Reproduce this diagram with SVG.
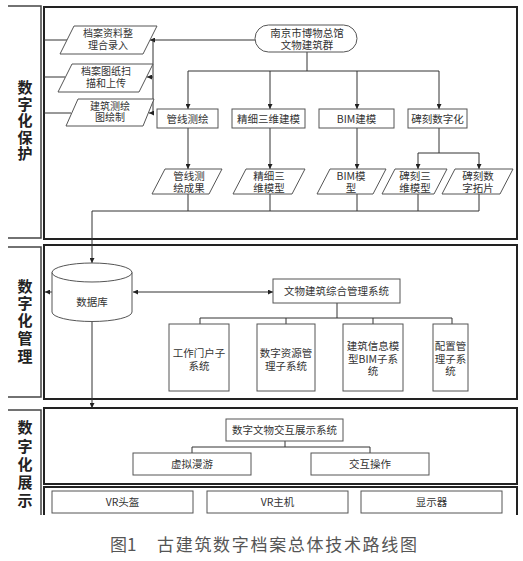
<svg xmlns="http://www.w3.org/2000/svg" width="523" height="561" viewBox="0 0 523 561">
<defs>
<style>
text{font-family:"Noto Sans CJK SC","Liberation Sans",sans-serif;fill:#333;font-size:10.5px;text-anchor:middle}
.lab{font-size:15px;font-weight:bold;fill:#222}
.sec{fill:#fff;stroke:#222;stroke-width:2}
.frm{fill:none;stroke:#444;stroke-width:1.5}
.nd{fill:#fff;stroke:#555;stroke-width:1}
.cn{fill:none;stroke:#333;stroke-width:1}
.cap{font-size:17px;fill:#555;text-anchor:start}
.pt{font-size:10px}
</style>
<marker id="ah" viewBox="0 0 10 10" refX="10" refY="5" markerWidth="5" markerHeight="5" orient="auto-start-reverse" markerUnits="userSpaceOnUse">
<path d="M0,0L10,5L0,10z" fill="#222"/>
</marker>
</defs>
<rect width="523" height="561" fill="#fff"/>

<g id="labels">
<path class="frm" d="M8,6H41V238H8"/>
<path class="frm" d="M8,247H41V397H8"/>
<path class="frm" d="M8,410H41V515"/>
<text class="lab" x="25" y="93">数</text>
<text class="lab" x="25" y="110">字</text>
<text class="lab" x="25" y="126">化</text>
<text class="lab" x="25" y="143">保</text>
<text class="lab" x="25" y="159">护</text>
<text class="lab" x="25" y="292">数</text>
<text class="lab" x="25" y="309">字</text>
<text class="lab" x="25" y="326">化</text>
<text class="lab" x="25" y="344">管</text>
<text class="lab" x="25" y="362">理</text>
<text class="lab" x="25" y="433">数</text>
<text class="lab" x="25" y="452">字</text>
<text class="lab" x="25" y="470">化</text>
<text class="lab" x="25" y="488">展</text>
<text class="lab" x="25" y="506">示</text>
</g>

<g id="sections">
<rect class="sec" x="44" y="7" width="473" height="232"/>
<rect class="sec" x="44" y="245" width="473" height="154"/>
<rect class="sec" x="44" y="408" width="473" height="76"/>
<path class="sec" d="M44,515V487H517V515" fill="none"/>
</g>

<g id="connectors">
<path class="cn" d="M44,40H67M44,77H65M44,113H71"/>
<path class="cn" d="M255,40H150" marker-end="url(#ah)"/>
<path class="cn" d="M153,40V113"/>
<path class="cn" d="M153,77H147" marker-end="url(#ah)"/>
<path class="cn" d="M153,113H149" marker-end="url(#ah)"/>
<path class="cn" d="M307,52V71M188,71H439"/>
<path class="cn" d="M188,71V109" marker-end="url(#ah)"/>
<path class="cn" d="M270,71V109" marker-end="url(#ah)"/>
<path class="cn" d="M357,71V109" marker-end="url(#ah)"/>
<path class="cn" d="M439,71V109" marker-end="url(#ah)"/>
<path class="cn" d="M188,128V169" marker-end="url(#ah)"/>
<path class="cn" d="M270,128V169" marker-end="url(#ah)"/>
<path class="cn" d="M357,128V169" marker-end="url(#ah)"/>
<path class="cn" d="M439,128V153M418,153H479"/>
<path class="cn" d="M418,153V169" marker-end="url(#ah)"/>
<path class="cn" d="M479,153V169" marker-end="url(#ah)"/>
<path class="cn" d="M188,194V211M270,194V211M357,194V211M418,194V211M479,194V211M92,211H479"/>
<path class="cn" d="M92,211V263" marker-end="url(#ah)"/>
<path class="cn" d="M52,292H45" marker-end="url(#ah)"/>
<path class="cn" d="M133,292H273" marker-start="url(#ah)" marker-end="url(#ah)"/>
<path class="cn" d="M337,303V318M200,318H452M200,318V324M286,318V324M373,318V324M452,318V324"/>
<path class="cn" d="M92,322V408" marker-end="url(#ah)"/>
<path class="cn" d="M285,441V447M192,447H370M192,447V453M370,447V453"/>
</g>

<g id="n-input1">
<polygon class="nd" points="74,26 157,26 143,54 60,54"/>
<text class="pt" x="108" y="37">档案资料整</text>
<text class="pt" x="108" y="49">理合录入</text>
</g>
<g id="n-input2">
<polygon class="nd" points="72,64 153,64 139,92 58,92"/>
<text class="pt" x="106" y="75">档案图纸扫</text>
<text class="pt" x="106" y="87">描和上传</text>
</g>
<g id="n-input3">
<polygon class="nd" points="78,99 154,99 143,126 66,126"/>
<text class="pt" x="110" y="110">建筑测绘</text>
<text class="pt" x="110" y="121">图绘制</text>
</g>
<g id="n-source">
<rect class="nd" x="255" y="25" width="102" height="27" rx="13.5"/>
<text x="307" y="37">南京市博物总馆</text>
<text x="307" y="49">文物建筑群</text>
</g>
<g id="n-gx"><rect class="nd" x="157" y="109" width="61" height="19"/><text x="187.5" y="122.5">管线测绘</text></g>
<g id="n-jx"><rect class="nd" x="232" y="109" width="73" height="19"/><text x="268.5" y="122.5">精细三维建模</text></g>
<g id="n-bim"><rect class="nd" x="319" y="109" width="75" height="19"/><text x="356.5" y="122.5">BIM建模</text></g>
<g id="n-bk"><rect class="nd" x="408" y="109" width="59" height="19"/><text x="437.5" y="122.5">碑刻数字化</text></g>

<g id="n-gxr">
<polygon class="nd" points="165,169 222,169 209,194 152,194"/>
<text x="189" y="180">管线测</text><text x="189" y="192">绘成果</text>
</g>
<g id="n-jxr">
<polygon class="nd" points="246,169 305,169 292,194 233,194"/>
<text x="269" y="180">精细三</text><text x="269" y="192">维模型</text>
</g>
<g id="n-bimr">
<polygon class="nd" points="330,169 386,169 373,194 317,194"/>
<text x="351" y="180">BIM模</text><text x="351" y="192">型</text>
</g>
<g id="n-bk3d">
<polygon class="nd" points="395,169 447,169 434,194 382,194"/>
<text x="415" y="180">碑刻三</text><text x="415" y="192">维模型</text>
</g>
<g id="n-bktp">
<polygon class="nd" points="455,169 513,169 500,194 442,194"/>
<text x="478" y="180">碑刻数</text><text x="478" y="192">字拓片</text>
</g>

<g id="n-db">
<path class="nd" d="M52,272.5V312A40,9.5 0 0 0 132,312V272.5A40,9.5 0 0 0 52,272.5A40,9.5 0 0 0 132,272.5"/>
<text x="92" y="306">数据库</text>
</g>
<g id="n-mgmt"><rect class="nd" x="273" y="279" width="127" height="24"/><text x="336.5" y="295">文物建筑综合管理系统</text></g>
<g id="n-sub1"><rect class="nd" x="169" y="324" width="60" height="67"/><text x="199" y="357">工作门户子</text><text x="199" y="370">系统</text></g>
<g id="n-sub2"><rect class="nd" x="257" y="324" width="58" height="67"/><text x="286" y="357">数字资源管</text><text x="286" y="370">理子系统</text></g>
<g id="n-sub3"><rect class="nd" x="343" y="324" width="60" height="67"/><text x="373" y="350">建筑信息模</text><text x="373" y="362.5">型BIM子系</text><text x="373" y="375">统</text></g>
<g id="n-sub4"><rect class="nd" x="433" y="324" width="35" height="67"/><text x="450.5" y="350">配置管</text><text x="450.5" y="362.5">理子系</text><text x="450.5" y="375">统</text></g>

<g id="n-disp"><rect class="nd" x="226" y="419" width="117" height="22"/><text x="284.5" y="434">数字文物交互展示系统</text></g>
<g id="n-vr"><rect class="nd" x="133" y="453" width="118" height="22"/><text x="192" y="468">虚拟漫游</text></g>
<g id="n-op"><rect class="nd" x="311" y="453" width="118" height="22"/><text x="370" y="468">交互操作</text></g>
<g id="n-hmd"><rect class="nd" x="52" y="491" width="141" height="22"/><text x="122.5" y="506">VR头盔</text></g>
<g id="n-host"><rect class="nd" x="207" y="491" width="141" height="22"/><text x="277.5" y="506">VR主机</text></g>
<g id="n-mon"><rect class="nd" x="361" y="491" width="141" height="22"/><text x="431.5" y="506">显示器</text></g>

<g id="caption">
<text class="cap" x="110" y="551">图1</text>
<text class="cap" x="157" y="551" textLength="260" lengthAdjust="spacing">古建筑数字档案总体技术路线图</text>
</g>
</svg>
